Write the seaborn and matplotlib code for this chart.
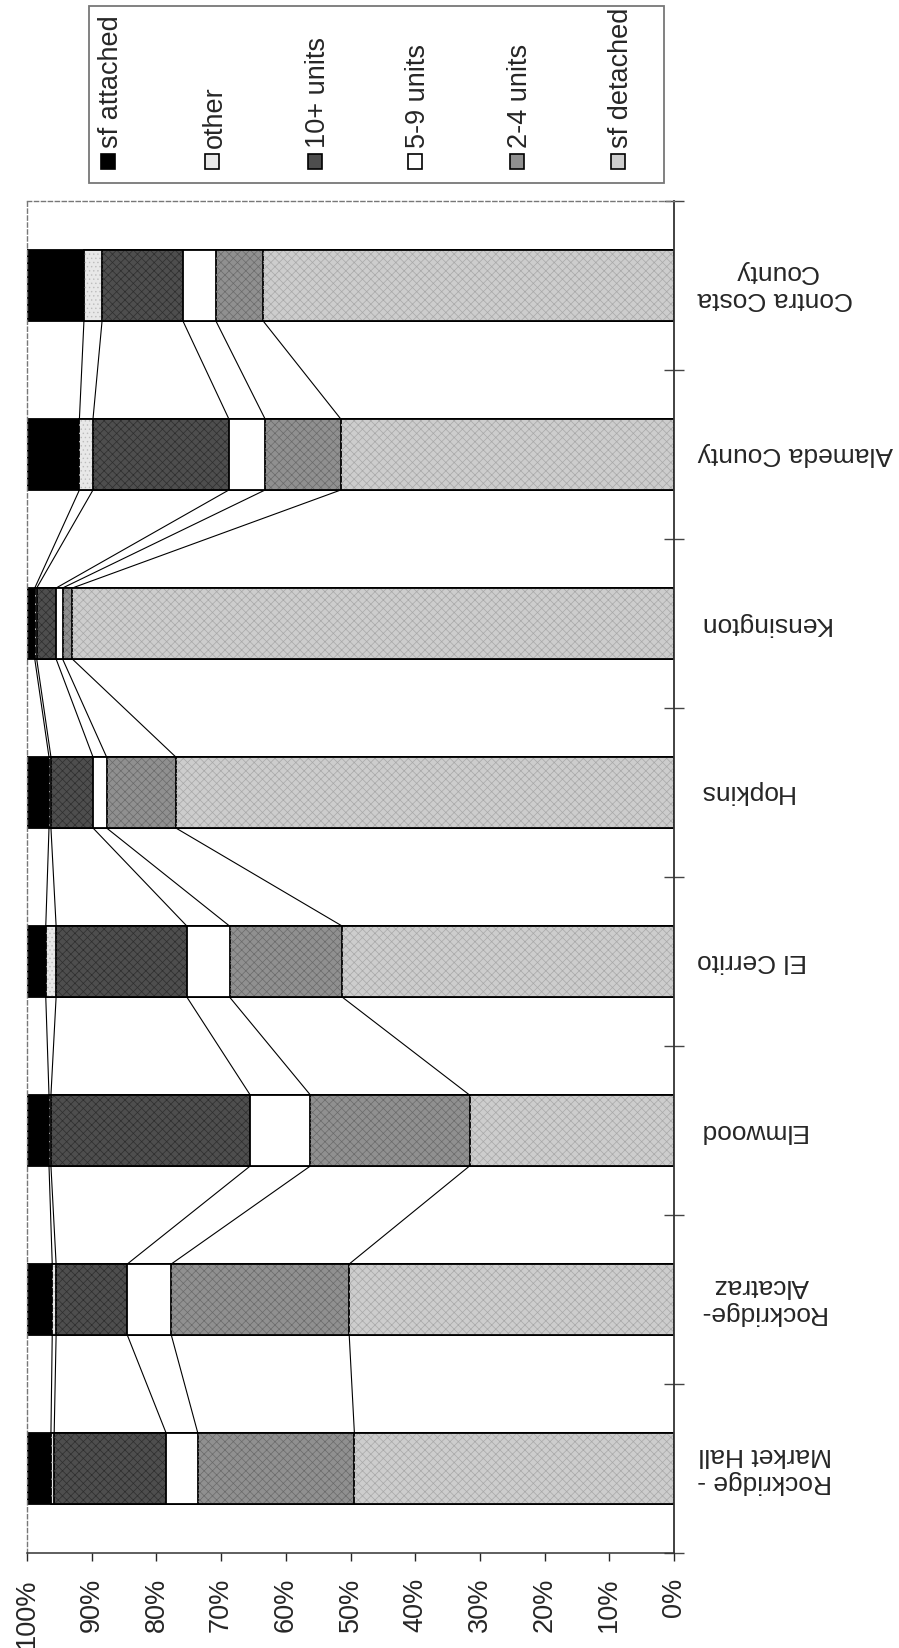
import matplotlib
matplotlib.use("Agg")
import matplotlib.pyplot as plt
from matplotlib.patches import Rectangle
import seaborn as sns
import numpy as np
import pandas as pd

# ---- data (bottom -> top in the picture) ----
categories = ["Rockridge -\nMarket Hall", "Rockridge-\nAlcatraz", "Elmwood", "El Cerrito",
              "Hopkins", "Kensington", "Alameda County", "Contra Costa\nCounty"]
sf_detached = [49.4, 50.2, 31.6, 51.3, 77.0, 93.0, 51.5, 63.5]
units_2_4   = [24.2, 27.5, 24.6, 17.4, 10.7, 1.5, 11.7, 7.3]
units_5_9   = [4.9, 6.8, 9.3, 6.6, 2.1, 1.0, 5.6, 5.1]
units_10p   = [17.3, 11.0, 30.8, 20.2, 6.5, 3.0, 21.0, 12.5]
other       = [0.5, 0.6, 0.3, 1.6, 0.3, 0.3, 2.1, 2.8]
sf_attached = [3.7, 3.9, 3.4, 2.9, 3.4, 1.2, 8.1, 8.8]
tick_values = [0, 10, 20, 30, 40, 50, 60, 70, 80, 90, 100]
tick_labels = ["0%", "10%", "20%", "30%", "40%", "50%", "60%", "70%", "80%", "90%", "100%"]

series_names = ["sf detached", "2-4 units", "5-9 units", "10+ units", "other", "sf attached"]
series_vals = [sf_detached, units_2_4, units_5_9, units_10p, other, sf_attached]
series_colors = ["#cdcdcd", "#909090", "#ffffff", "#4e4e4e", "#e8e8e8", "#000000"]
hatch_colors = ["#a8a8a8", "#6a6a6a", None, "#2e2e2e", "#bdbdbd", None]
hatches = ["xxxx", "xxxx", None, "xxxx", "....", None]

W, H = 899, 1648
sns.set_style("white")
plt.rcParams["font.family"] = ["Liberation Sans", "DejaVu Sans"]
plt.rcParams["hatch.linewidth"] = 0.5

fig = plt.figure(figsize=(W / 100, H / 100), dpi=100)
ax = fig.add_axes([27 / W, (H - 1553) / H, (674 - 27) / W, (1553 - 201) / H])

# plot order top -> bottom for seaborn's horizontal category axis
order = categories[::-1]
cum = np.cumsum(np.array(series_vals), axis=0)  # shape (6, n)

df = pd.DataFrame({"cat": categories})
for i, name in enumerate(series_names):
    df[name] = cum[i]

bar_h = 0.42
for i in range(len(series_names) - 1, -1, -1):
    sns.barplot(data=df, x=series_names[i], y="cat", order=order, orient="h",
                color=series_colors[i], width=bar_h, edgecolor="black",
                linewidth=1.3, saturation=1, ax=ax)
    if hatches[i]:
        sns.barplot(data=df, x=series_names[i], y="cat", order=order, orient="h",
                    color=hatch_colors[i], width=bar_h - 0.01, fill=False,
                    hatch=hatches[i], linewidth=0, saturation=1, ax=ax)

# series lines connecting boundaries between adjacent bars
ypos = {c: order.index(c) for c in categories}
for lvl in range(len(series_names) - 1):
    for j in range(len(categories) - 1):
        y0 = ypos[categories[j]] - bar_h / 2
        y1 = ypos[categories[j + 1]] + bar_h / 2
        ax.plot([cum[lvl][j], cum[lvl][j + 1]], [y0, y1], color="black", lw=0.8)

ax.set_xlim(100, 0)
ax.set_ylim(len(categories) - 0.5, -0.5)
ax.set_xlabel("")
ax.set_ylabel("")

ax.set_xticks(tick_values)
ax.set_xticklabels(tick_labels, rotation=90, fontsize=19.5)
ax.tick_params(axis="x", direction="out", length=6, width=1, pad=12, bottom=True)

ax.yaxis.tick_right()
ax.set_yticks(range(len(order)))
ax.set_yticklabels(order, rotation=180, fontsize=19, ha="left", va="center",
                   multialignment="center")
ax.tick_params(axis="y", length=0, pad=17, right=True, left=False)
ax.set_yticks(np.arange(-0.5, len(order), 1.0), minor=True)
ax.tick_params(axis="y", which="minor", direction="inout", length=14, width=1,
               right=True, left=False, color="#444444")

for s in ["top", "left"]:
    ax.spines[s].set_linestyle((0, (3, 2)))
    ax.spines[s].set_color("#777777")
    ax.spines[s].set_linewidth(1.0)
ax.spines["right"].set_color("#333333")
ax.spines["right"].set_linewidth(1.3)
ax.spines["bottom"].set_color("#333333")
ax.spines["bottom"].set_linewidth(1.1)
for s in ax.spines.values():
    s.set_visible(True)

# legend (drawn rotated like the reference)
fig.add_artist(Rectangle((89 / W, 1 - 183 / H), (664 - 89) / W, (183 - 6) / H,
                         transform=fig.transFigure, fill=False, edgecolor="#777777", lw=1.3))
leg_names = series_names[::-1]
leg_colors = series_colors[::-1]
leg_x = [108, 212, 315, 415, 517, 618]
for name, col, xc in zip(leg_names, leg_colors, leg_x):
    fig.add_artist(Rectangle(((xc - 7) / W, 1 - 169 / H), 14 / W, 15 / H,
                             transform=fig.transFigure, facecolor=col,
                             edgecolor="black", lw=1.2))
    fig.text((xc + 3) / W, 1 - 148 / H, name, rotation=90, ha="center", va="bottom",
             fontsize=19.5)

fig.savefig("out.png", dpi=100, facecolor="white")
